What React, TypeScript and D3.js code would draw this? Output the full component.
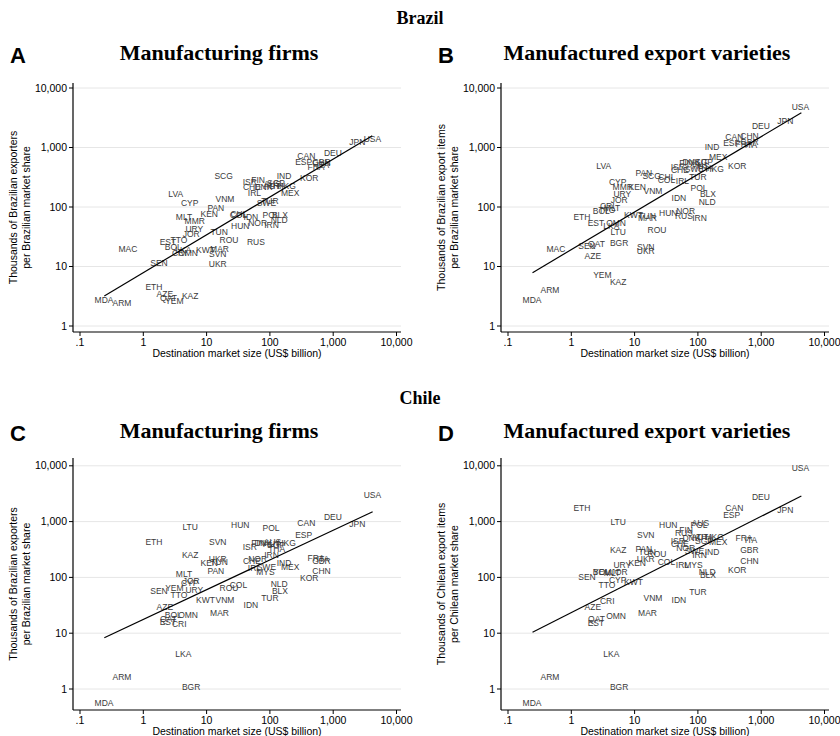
import React from "react";
import * as d3 from "d3";

// destination countries (ISO codes used as marker labels)
const countries = [
  "MDA", "ARM", "MAC", "ETH", "SEN", "AZE", "QAT", "EST", "BOL", "YEM",
  "LVA", "TTO", "CRI", "LKA", "MLT", "OMN", "CYP", "KAZ", "LTU", "JOR",
  "BGR", "URY", "MMR", "KWT", "KEN", "PAN", "SVN", "UKR", "TUN", "MAR",
  "SCG", "VNM", "ROU", "COL", "CHL", "HUN", "ISR", "CHE", "IDN", "IRL",
  "RUS", "NOR", "FIN", "DNK", "MYS", "SWE", "TUR", "POL", "IRN", "AUT",
  "AUS", "SGP", "THA", "NLD", "BLX", "IND", "HKG", "MEX", "ESP", "CAN",
  "KOR", "FRA", "CHN", "GBR", "ITA", "DEU", "JPN", "USA",
];

// destination market size, US$ billion
const marketSize = [
  0.24, 0.46, 0.57, 1.47, 1.77, 2.19, 2.5, 2.45, 2.98, 3.1,
  3.25, 3.66, 3.7, 4.3, 4.4, 5.1, 5.4, 5.5, 5.5, 5.7,
  5.7, 6.4, 6.5, 9.6, 11, 14, 15, 15, 15.8, 16,
  18.6, 19.5, 22.6, 31.8, 32.5, 34, 48, 52, 50, 57,
  60, 64, 65, 79, 85, 88, 100, 104, 106, 107,
  110, 125, 128, 140, 144, 167, 184, 209, 342, 376,
  419, 535, 655, 650, 690, 990, 2400, 4170,
];

// Brazil, manufacturing firms (thousands of exporters per market share)
const brazilFirms = [
  2.7, 2.4, 20, 4.5, 11.3, 3.5, 3.0, 26, 21.5, 2.6,
  163, 28, 17, 18.6, 69, 17, 115, 3.2, null, 34.8,
  null, 42, 59, 19, 76, 95, 16.2, 11, 38, 19.7,
  332, 136, 28, 72, 75, 48, 266, 219, 69, 170,
  26, 54, 284, 214, null, 115, 126, 73, 50, 225,
  244, 254, 225, 60, 73, 332, 225, 175, 577, 720,
  304, 465, 550, 570, 508, 818, 1237, 1374,
];

// Brazil, manufactured export varieties
const brazilVarieties = [
  2.7, 4.1, 20, 67, 22.4, 15.2, 23.9, 53, 86, 7.2,
  483, 90, 104, 48, 96, 53, 266, 5.4, 38.5, 133,
  24.8, 165, 217, 73, 219, 377, 21, 18, 71, 65,
  332, 188, 41, 284, 316, 78, 476, 419, 142, 277,
  71, 86, 543, 571, null, 436, 323, 206, 66, 577,
  489, 577, 458, 120, 163, 1031, 440, 685, 1177, 1484,
  489, 1140, 1560, 1237, 1090, 2297, 2787, 4740,
];

// Chile, manufacturing firms
const chileFirms = [
  0.55, 1.62, null, 426, 57, 29, 18, 15.7, 21, 65,
  null, 48, 14.4, 4.2, 115, 21, 78, 255, 811, 86,
  1.1, 59, null, 39, 181, 130, 431, 214, 189, 23,
  null, 40, 65, 73, null, 880, 355, 199, 32, 146,
  null, 211, 413, 413, 123, 156, 42, 778, 252, 398,
  431, 380, 323, 76, 58, 183, 419, 154, 575, 933,
  98, 225, 130, 197, 211, 1209, 917, 2960,
];

// Chile, manufactured export varieties
const chileVarieties = [
  0.55, 1.62, null, 1775, 100, 29, 18, 15.4, 127, 123,
  null, 73, 38, 4.2, 120, 20, 91, 306, 984, 127,
  1.1, 167, null, 84, 183, 323, 575, 214, 282, 23,
  null, 43, 263, 187, null, 869, 449, 400, 39, 167,
  617, 341, 706, 502, 167, 297, 55, 880, 252, 537,
  933, 449, 537, 127, 110, 282, 537, 426, 1313, 1775,
  136, 502, 197, 310, 462, 2793, 1614, 9020,
];

// fitted lines: [start, end] as [market size, value]
const fitBrazilFirms = [[0.242, 3.19], [4140, 1580]];
const fitBrazilVarieties = [[0.244, 7.87], [4310, 3845]];
const fitChileFirms = [[0.242, 8.3], [4200, 1505]];
const fitChileVarieties = [[0.244, 10.4], [4310, 2875]];

const xTicks = [0.1, 1, 10, 100, 1000, 10000];
const yTicks = [1, 10, 100, 1000, 10000];

const SANS = "'Liberation Sans', Arial, Helvetica, sans-serif";
const SERIF = "'Liberation Serif', 'Times New Roman', serif";

const fmtTick = (v: number) => (v === 0.1 ? ".1" : d3.format(",")(v));

const rows = {
  top: { yRange: [326, 88], axisTop: 83, axisBottom: 332, titleY: 60, letterY: 63 },
  bottom: { yRange: [689, 465.8], axisTop: 458, axisBottom: 710, titleY: 438, letterY: 441 },
};

type PanelProps = {
  dx: number;
  row: "top" | "bottom";
  letter: string;
  title: string;
  yTitle: [string, string];
  values: (number | null)[];
  fit: number[][];
};

const Panel: React.FC<PanelProps> = ({ dx, row, letter, title, yTitle, values, fit }) => {
  const r = rows[row];
  const axisX = 73 + dx;
  const right = 401 + dx;
  const x = d3.scaleLog().domain([0.1, 10000]).range([80 + dx, 396.5 + dx]);
  const y = d3.scaleLog().domain([1, 10000]).range(r.yRange);
  const line = d3
    .line<number[]>()
    .x((d) => x(d[0]))
    .y((d) => y(d[1]));
  const midY = (r.axisTop + r.axisBottom) / 2;

  return (
    <g>
      <text x={18 + dx} y={r.letterY} fontFamily={SANS} fontWeight="bold" fontSize={22} textAnchor="middle">
        {letter}
      </text>
      <text x={219 + dx} y={r.titleY} fontFamily={SERIF} fontWeight="bold" fontSize={22} textAnchor="middle">
        {title}
      </text>

      {yTicks.map((t) => (
        <line key={"g" + t} x1={axisX} x2={right} y1={y(t)} y2={y(t)} stroke="#e6e6e6" strokeWidth={1} />
      ))}

      <line x1={axisX} x2={axisX} y1={r.axisTop} y2={r.axisBottom} stroke="#000" strokeWidth={1.2} />
      <line x1={axisX} x2={right} y1={r.axisBottom} y2={r.axisBottom} stroke="#000" strokeWidth={1.2} />

      {yTicks.map((t) => (
        <g key={"y" + t}>
          <line x1={axisX - 4} x2={axisX} y1={y(t)} y2={y(t)} stroke="#000" />
          <text x={axisX - 6} y={y(t)} dy="0.35em" textAnchor="end" fontFamily={SANS} fontSize={10.5}>
            {fmtTick(t)}
          </text>
        </g>
      ))}
      {xTicks.map((t) => (
        <g key={"x" + t}>
          <line x1={x(t)} x2={x(t)} y1={r.axisBottom} y2={r.axisBottom + 4} stroke="#000" />
          <text x={x(t)} y={r.axisBottom + 14} textAnchor="middle" fontFamily={SANS} fontSize={10.5}>
            {fmtTick(t)}
          </text>
        </g>
      ))}

      <text x={(axisX + right) / 2} y={r.axisBottom + 25} textAnchor="middle" fontFamily={SANS} fontSize={10.5}>
        Destination market size (US$ billion)
      </text>
      <text transform={`translate(${axisX - 56},${midY}) rotate(-90)`} textAnchor="middle" fontFamily={SANS} fontSize={10.5}>
        {yTitle[0]}
      </text>
      <text transform={`translate(${axisX - 43},${midY}) rotate(-90)`} textAnchor="middle" fontFamily={SANS} fontSize={10.5}>
        {yTitle[1]}
      </text>

      {countries.map((c, i) => {
        const v = values[i];
        if (v == null) return null;
        return (
          <text
            key={c}
            x={x(marketSize[i])}
            y={y(v)}
            dy="0.35em"
            textAnchor="middle"
            fontFamily={SANS}
            fontSize={8.5}
            fill="#3a3a3a"
          >
            {c}
          </text>
        );
      })}

      <path d={line(fit) || ""} fill="none" stroke="#000" strokeWidth={1.2} />
    </g>
  );
};

export default function App() {
  return (
    <svg
      width={840}
      height={736}
      viewBox="0 0 840 736"
      style={{ position: "absolute", left: 0, top: 0, background: "#fff" }}
    >
      <rect width={840} height={736} fill="#fff" />
      <text x={420} y={24} textAnchor="middle" fontFamily={SERIF} fontWeight="bold" fontSize={18}>
        Brazil
      </text>
      <text x={420} y={404} textAnchor="middle" fontFamily={SERIF} fontWeight="bold" fontSize={18}>
        Chile
      </text>
      <Panel
        dx={0}
        row="top"
        letter="A"
        title="Manufacturing firms"
        yTitle={["Thousands of Brazilian exporters", "per Brazilian market share"]}
        values={brazilFirms}
        fit={fitBrazilFirms}
      />
      <Panel
        dx={428}
        row="top"
        letter="B"
        title="Manufactured export varieties"
        yTitle={["Thousands of Brazilian export items", "per Brazilian market share"]}
        values={brazilVarieties}
        fit={fitBrazilVarieties}
      />
      <Panel
        dx={0}
        row="bottom"
        letter="C"
        title="Manufacturing firms"
        yTitle={["Thousands of Brazilian exporters", "per Brazilian market share"]}
        values={chileFirms}
        fit={fitChileFirms}
      />
      <Panel
        dx={428}
        row="bottom"
        letter="D"
        title="Manufactured export varieties"
        yTitle={["Thousands of Chilean export items", "per Chilean market share"]}
        values={chileVarieties}
        fit={fitChileVarieties}
      />
    </svg>
  );
}
